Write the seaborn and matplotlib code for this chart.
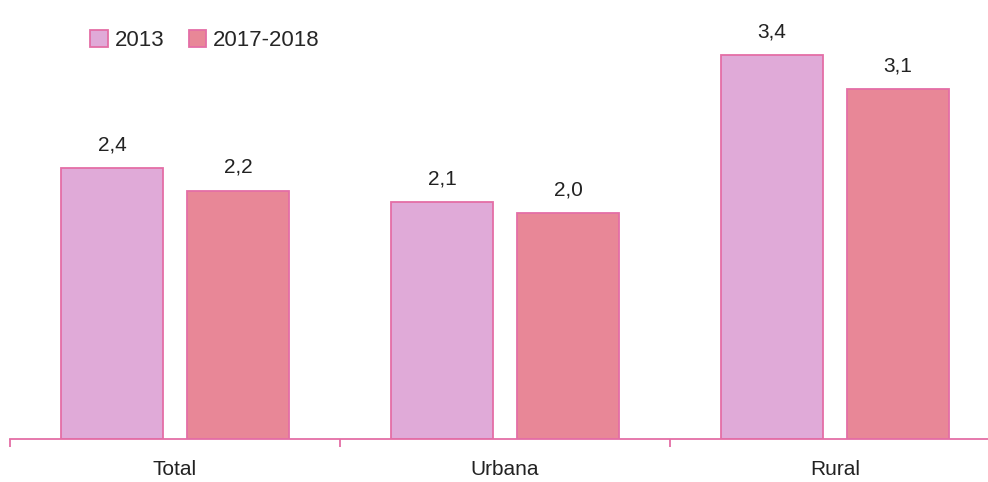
import pandas as pd
import numpy as np
import matplotlib.pyplot as plt
import seaborn as sns

# data
areas = ["Total", "Urbana", "Rural"]
years = ["2013", "2017-2018"]
vals_2013 = [2.4, 2.1, 3.4]
vals_2018 = [2.2, 2.0, 3.1]

df = pd.DataFrame({
    "area": areas * 2,
    "year": [years[0]] * 3 + [years[1]] * 3,
    "valor": vals_2013 + vals_2018,
})

sns.set_style("white")
plt.rcParams['font.family'] = ['Liberation Sans Narrow', 'Liberation Sans', 'DejaVu Sans']

fig = plt.figure(figsize=(9.88, 4.82), dpi=100)
ax = fig.add_axes([10 / 988, 43 / 482, 990 / 988, 429 / 482])

pal = {"2013": "#e0aad8", "2017-2018": "#e88797"}
sns.barplot(data=df, x="area", y="valor", hue="year", palette=pal,
            width=0.765, gap=0.19, edgecolor="#e46ea6", linewidth=1.3,
            saturation=1, ax=ax)

for cont in ax.containers:
    ax.bar_label(cont, labels=[f"{v:.1f}".replace(".", ",") for v in cont.datavalues],
                 padding=10, fontsize=15, color="#222222")

ax.set_xlim(-0.5, 2.5)
ax.set_ylim(0, 3.8)
ax.set_xlabel("")
ax.set_ylabel("")
ax.set_yticks([])
ax.set_xticks([0, 1, 2])
ax.set_xticklabels(areas, fontsize=15, color="#222222")
ax.tick_params(axis="x", which="major", length=0, pad=15)
# category separator ticks
ax.set_xticks([-0.5, 0.5, 1.5, 2.5], minor=True)
ax.tick_params(axis="x", which="minor", bottom=True, length=6, width=1.3,
               color="#e46ea6", direction="out")
for s in ["top", "right", "left"]:
    ax.spines[s].set_visible(False)
ax.spines["bottom"].set_color("#e46ea6")
ax.spines["bottom"].set_linewidth(1.3)

leg = ax.legend(loc="upper left", bbox_to_anchor=(0.072, 0.975), ncol=2, frameon=False,
                fontsize=16, handlelength=0.8, handleheight=0.8, handletextpad=0.3,
                columnspacing=1.1, borderaxespad=0)

fig.savefig("out.png", dpi=100)
